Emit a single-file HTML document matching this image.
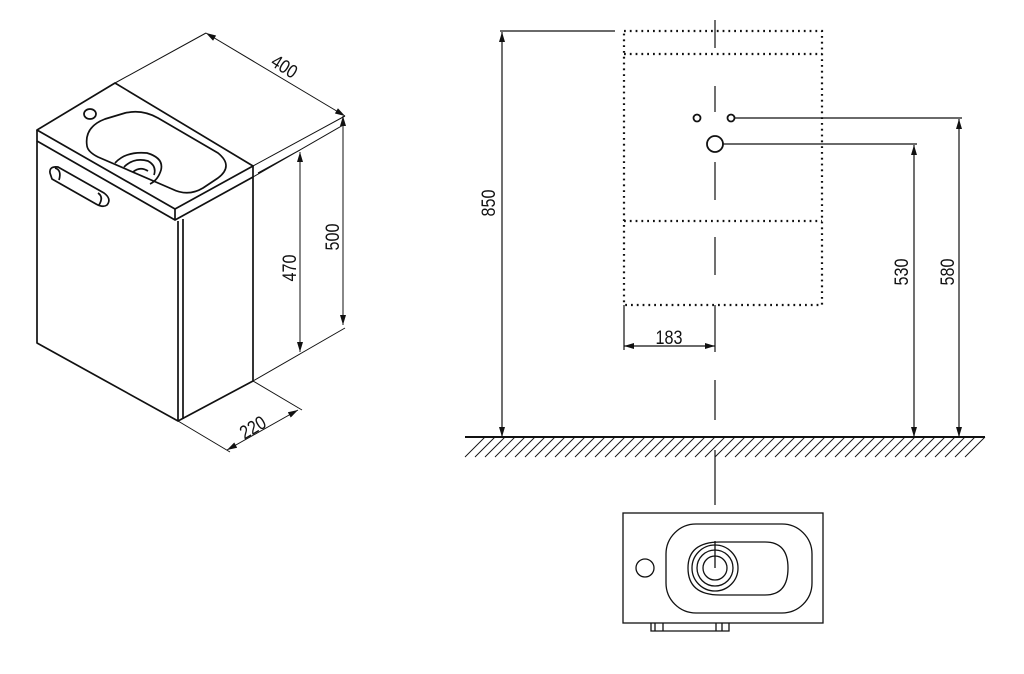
<!DOCTYPE html>
<html><head><meta charset="utf-8"><style>
html,body{margin:0;padding:0;background:#fff;}
svg{display:block;}
text{font-family:"Liberation Sans",sans-serif;font-size:19px;fill:#111;}
</style></head><body>
<svg width="1024" height="674" viewBox="0 0 1024 674" xmlns="http://www.w3.org/2000/svg">
<defs>
<marker id="a" viewBox="0 0 10 6" refX="10" refY="3" markerWidth="11" markerHeight="6" orient="auto-start-reverse" markerUnits="userSpaceOnUse"><path d="M0,0 L10,3 L0,6 Z" fill="#111"/></marker>
</defs>
<g fill="none" stroke="#111" stroke-width="1.7" stroke-linejoin="round">
<path d="M37,130 L115,83 L253,166 L175,209 Z"/>
<path d="M37,130 L37,141 L175,220 L175,209"/>
<path d="M175,220 L253,177 L253,166"/>
<path d="M37,141 L37,343 L178,421 L253,381 L253,177"/>
<path d="M178,221 L178,421 M183,219 L183,419"/>
<ellipse cx="90" cy="114" rx="6" ry="5"/>
<path d="M87,146 Q84,127 105,119 L125,113 Q142,109 158,118 L218,153 Q234,166 218,178 L203,188 Q188,197 172,189 L98,157 Q88,152 87,146 Z"/>
<path d="M115,163 Q126,151 147,153 Q164,158 161,170 Q158,180 150,184"/>
<path d="M124,167 Q134,157 148,161 Q157,166 154,175"/>
<path d="M133,172 Q140,166 148,171"/>
<path d="M50,173 Q49,166 58,167 L104,193 Q112,199 107,205 Q103,208 96,204 L52,179 Z"/>
<path d="M55,168 Q62,170 59,180 M98,193 Q104,197 99,205"/>
</g>
<g stroke="#111" stroke-width="1" fill="none">
<path d="M115,83 L206,33 M253,166 L345,116"/>
<path d="M206,33 L345,116" marker-start="url(#a)" marker-end="url(#a)"/>
<path d="M253,177 L345,124 M253,381 L345,328 M258,173 L300,150 M253,381 L300,354"/>
<path d="M343,116 L343,325" marker-start="url(#a)" marker-end="url(#a)"/>
<path d="M300,152 L300,352" marker-start="url(#a)" marker-end="url(#a)"/>
<path d="M178,421 L230,452 M253,381 L302,410"/>
<path d="M227,450 L298,410" marker-start="url(#a)" marker-end="url(#a)"/>
</g>
<g transform="translate(281,72) rotate(32) scale(0.85,1)"><text x="0" y="0" text-anchor="middle">400</text></g>
<g transform="translate(332,237) rotate(-90) scale(0.85,1)"><text x="0" y="7" text-anchor="middle">500</text></g>
<g transform="translate(289,268) rotate(-90) scale(0.85,1)"><text x="0" y="7" text-anchor="middle">470</text></g>
<g transform="translate(256,433) rotate(-30) scale(0.85,1)"><text x="0" y="0" text-anchor="middle">220</text></g>

<g stroke="#111" stroke-width="2.2" stroke-dasharray="1.8 4" fill="none">
<rect x="624" y="31" width="198" height="274"/>
<path d="M624,54 L822,54 M624,221 L822,221"/>
</g>
<g stroke="#111" stroke-width="1.2" fill="none">
<path d="M715,20 L715,48 M715,86 L715,112 M715,162 L715,200 M715,237 L715,275 M715,305 L715,352 M715,380 L715,420 M715,450 L715,505"/>
<circle cx="697" cy="118" r="3.5" stroke-width="1.8"/>
<circle cx="731" cy="118" r="3.5" stroke-width="1.8"/>
<circle cx="715" cy="144" r="8" stroke-width="1.8"/>
<path d="M735,118 L962,118 M723,144 L917,144"/>
<path d="M615,31 L500,31"/>
<path d="M502,32 L502,437" marker-start="url(#a)" marker-end="url(#a)"/>
<path d="M914,145 L914,437" marker-start="url(#a)" marker-end="url(#a)"/>
<path d="M959,119 L959,437" marker-start="url(#a)" marker-end="url(#a)"/>
<path d="M624,305 L624,350"/>
<path d="M624,346 L715,346" marker-start="url(#a)" marker-end="url(#a)"/>
<path d="M465,437 L985,437" stroke-width="2"/>
</g>
<g stroke="#111" stroke-width="0.9">
<path d="M465,457 L485,437 M475,457 L495,437 M485,457 L505,437 M495,457 L515,437 M505,457 L525,437 M515,457 L535,437 M525,457 L545,437 M535,457 L555,437 M545,457 L565,437 M555,457 L575,437 M565,457 L585,437 M575,457 L595,437 M585,457 L605,437 M595,457 L615,437 M605,457 L625,437 M615,457 L635,437 M625,457 L645,437 M635,457 L655,437 M645,457 L665,437 M655,457 L675,437 M665,457 L685,437 M675,457 L695,437 M685,457 L705,437 M695,457 L715,437 M705,457 L725,437 M715,457 L735,437 M725,457 L745,437 M735,457 L755,437 M745,457 L765,437 M755,457 L775,437 M765,457 L785,437 M775,457 L795,437 M785,457 L805,437 M795,457 L815,437 M805,457 L825,437 M815,457 L835,437 M825,457 L845,437 M835,457 L855,437 M845,457 L865,437 M855,457 L875,437 M865,457 L885,437 M875,457 L895,437 M885,457 L905,437 M895,457 L915,437 M905,457 L925,437 M915,457 L935,437 M925,457 L945,437 M935,457 L955,437 M945,457 L965,437 M955,457 L975,437 M965,457 L985,437"/>
</g>
<g transform="translate(488,203) rotate(-90) scale(0.85,1)"><text x="0" y="7" text-anchor="middle">850</text></g>
<g transform="translate(901,272) rotate(-90) scale(0.85,1)"><text x="0" y="7" text-anchor="middle">530</text></g>
<g transform="translate(947,272) rotate(-90) scale(0.85,1)"><text x="0" y="7" text-anchor="middle">580</text></g>
<g transform="translate(669,344) scale(0.85,1)"><text x="0" y="0" text-anchor="middle">183</text></g>

<g stroke="#111" stroke-width="1.3" fill="none">
<rect x="623" y="513" width="200" height="110"/>
<circle cx="645" cy="568" r="9"/>
<rect x="666" y="524" width="146" height="89" rx="30"/>
<path d="M720,542 L765,542 Q788,542 788,568 Q788,595 765,595 L720,595 Q688,595 688,568 Q688,542 720,542 Z"/>
<circle cx="715" cy="568" r="23"/>
<circle cx="715" cy="568" r="18"/>
<circle cx="715" cy="568" r="12"/>
<path d="M715,541 L715,568"/>
<path d="M651,623 L651,631 L729,631 L729,623 M655,623 L655,631 M663,623 L663,631 M716,623 L716,631 M722,623 L722,631"/>
</g>
</svg>
</body></html>
